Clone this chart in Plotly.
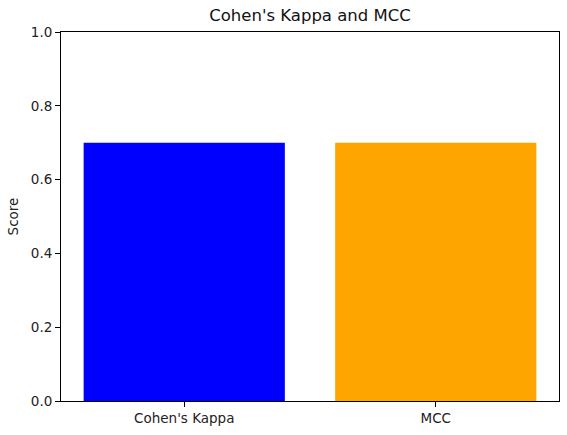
import plotly.graph_objects as go

metrics = ["Cohen's Kappa", "MCC"]
scores = [0.7, 0.7]
bar_colors = ["blue", "orange"]
y_ticks = [0.0, 0.2, 0.4, 0.6, 0.8, 1.0]

fig = go.Figure(go.Bar(
    x=[0, 1], y=scores, marker=dict(color=bar_colors, line=dict(width=0)),
    width=0.8, showlegend=False
))

axis_style = dict(showline=True, linecolor="black", linewidth=1, mirror=True,
                  showgrid=False, zeroline=False, ticks="outside", ticklen=5,
                  tickcolor="black", tickfont=dict(size=13.5, color="#222"),
                  automargin=False)

fig.update_xaxes(range=[-0.49, 1.49], tickvals=[0, 1], ticktext=metrics, **axis_style)
fig.update_yaxes(range=[0, 1], tickvals=y_ticks, tickformat=".1f",
                 title=dict(text="Score", font=dict(size=13.5, color="#222"), standoff=9),
                 **axis_style)

fig.update_layout(
    width=567, height=435,
    margin=dict(l=61, r=8, t=32, b=34, autoexpand=False),
    paper_bgcolor="white", plot_bgcolor="white",
    font=dict(family="DejaVu Sans", color="black"),
    title=dict(text="Cohen's Kappa and MCC", x=0.5, xanchor="center",
               xref="paper", y=1 - 15 / 435, yanchor="middle",
               font=dict(size=16.5, color="#111")),
)

# page body has a default 8px margin; drop it so the figure sits at 0,0
fig.write_html("out.html", config={"displayModeBar": False},
               post_script="document.body.style.margin='0px';")
